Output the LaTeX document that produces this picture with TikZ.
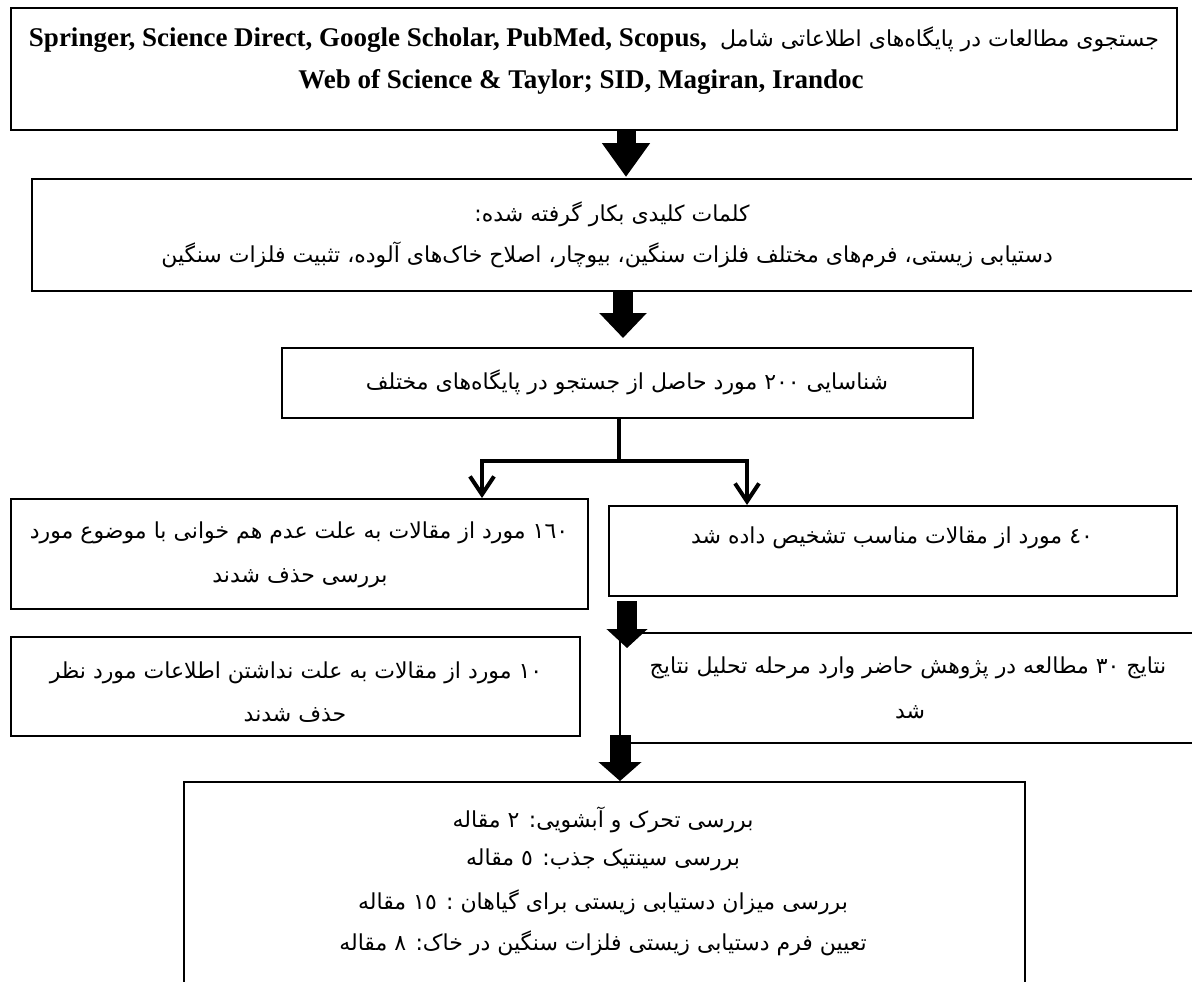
\documentclass[tikz,border=0pt]{standalone}
\usepackage{fontspec}
\setmainfont{Liberation Serif}
\newfontfamily\fa[Script=Arabic]{DejaVu Sans}
\TeXXeTstate=1
\usetikzlibrary{arrows.meta}
\begin{document}
\begin{tikzpicture}[x=0.5pt,y=-0.5pt,
  box/.style={draw, line width=1.1pt, inner sep=0pt, anchor=north west},
  fa/.style={inner sep=0pt, font=\fa\fontsize{11}{13}\selectfont},
  lat/.style={inner sep=0pt, font=\bfseries\fontsize{13.5}{16}\selectfont},
  barb/.style={line width=2pt, line join=miter, -{Straight Barb[length=9pt,width=12pt]}},
  stem/.style={line width=2pt},
]
\useasboundingbox (0,0) rectangle (1192,981);
\clip (0,0) rectangle (1192,981);

% boxes
\node[box, minimum width=583pt,   minimum height=61pt]   (b1) at (10,7) {};
\node[box, minimum width=589.5pt, minimum height=56pt]   (b2) at (31,178) {};
\node[box, minimum width=345.5pt, minimum height=35pt]   (b3) at (281,347) {};
\node[box, minimum width=288.5pt, minimum height=55pt]   (b4) at (10,498) {};
\node[box, minimum width=284pt,   minimum height=45pt]   (b5) at (608,505) {};
\node[box, minimum width=284.5pt, minimum height=49.5pt] (b6) at (10,636) {};
\node[box, minimum width=295.5pt, minimum height=55pt]   (b7) at (619,632) {};
\node[box, minimum width=420.5pt, minimum height=110pt]  (b8) at (183,781) {};

% texts
\node[lat] (t1a) at (594,40) {\beginR{\mdseries\fa\fontsize{11}{13}\selectfont جستجوی مطالعات در پایگاه‌های اطلاعاتی شامل}\ \ \beginL Springer, Science Direct, Google Scholar, PubMed, Scopus,\endL\endR};
\node[lat] (t1b) at (581,82) {Web of Science \& Taylor; SID, Magiran, Irandoc};
\node[fa] (t2a) at (612,214) {\beginR کلمات کلیدی بکار گرفته شده:\endR};
\node[fa] (t2b) at (607,255) {\beginR دستیابی زیستی، فرم‌های مختلف فلزات سنگین، بیوچار، اصلاح خاک‌های آلوده، تثبیت فلزات سنگین\endR};
\node[fa] (t3) at (627,382) {\beginR شناسایی ٢٠٠ مورد حاصل از جستجو در پایگاه‌های مختلف\endR};
\node[fa] (t4a) at (299,533) {\beginR ١٦٠ مورد از مقالات به علت عدم هم خوانی با موضوع مورد\endR};
\node[fa] (t4b) at (300,578) {\beginR بررسی حذف شدند\endR};
\node[fa] (t5) at (892,538) {\beginR ٤٠ مورد از مقالات مناسب تشخیص داده شد\endR};
\node[fa] (t6a) at (296,673) {\beginR ١٠ مورد از مقالات به علت نداشتن اطلاعات مورد نظر\endR};
\node[fa] (t6b) at (295,715) {\beginR حذف شدند\endR};
\node[fa] (t7a) at (908,668) {\beginR نتایج ٣٠ مطالعه در پژوهش حاضر وارد مرحله تحلیل نتایج\endR};
\node[fa] (t7b) at (910,712) {\beginR شد\endR};
\node[fa] (t8a) at (603,820) {\beginR بررسی تحرک و آبشویی: ٢ مقاله\endR};
\node[fa] (t8b) at (603,860) {\beginR بررسی سینتیک جذب: ٥ مقاله\endR};
\node[fa] (t8c) at (603,902) {\beginR بررسی میزان دستیابی زیستی برای گیاهان : ١٥ مقاله\endR};
\node[fa] (t8d) at (603,943) {\beginR تعیین فرم دستیابی زیستی فلزات سنگین در خاک: ٨ مقاله\endR};

% column coordinates
\coordinate (c1) at (626,0);
\coordinate (c2) at (623,0);
\coordinate (c3) at (627,0);
\coordinate (c4) at (620,0);
\coordinate (j)  at (619,461);
\coordinate (jl) at (482,461);
\coordinate (jr) at (747,461);

% thick arrows
\draw[line width=9.5pt, -{Triangle[length=17pt,width=23pt]}, shorten >=0.5pt] (b1.south -| c1) -- (b2.north -| c1);
\draw[line width=10pt, -{Triangle[length=12.5pt,width=23pt]}, shorten >=4.5pt] (b2.south -| c2) -- (b3.north -| c2);
\draw[line width=10pt, -{Triangle[length=9.5pt,width=20pt]}, shorten <=2pt, shorten >=-8pt] (b5.south -| c3) -- (b7.north -| c3);
\draw[line width=10.5pt, -{Triangle[length=9.5pt,width=21pt]}, shorten <=-4.5pt] (b7.south -| c4) -- (b8.north -| c4);

% split
\draw[stem] (b3.south -| j) -- (j);
\draw[barb] (j) -| (b4.north -| jl);
\draw[barb] (j) -| (b5.north -| jr);
\end{tikzpicture}
\end{document}
